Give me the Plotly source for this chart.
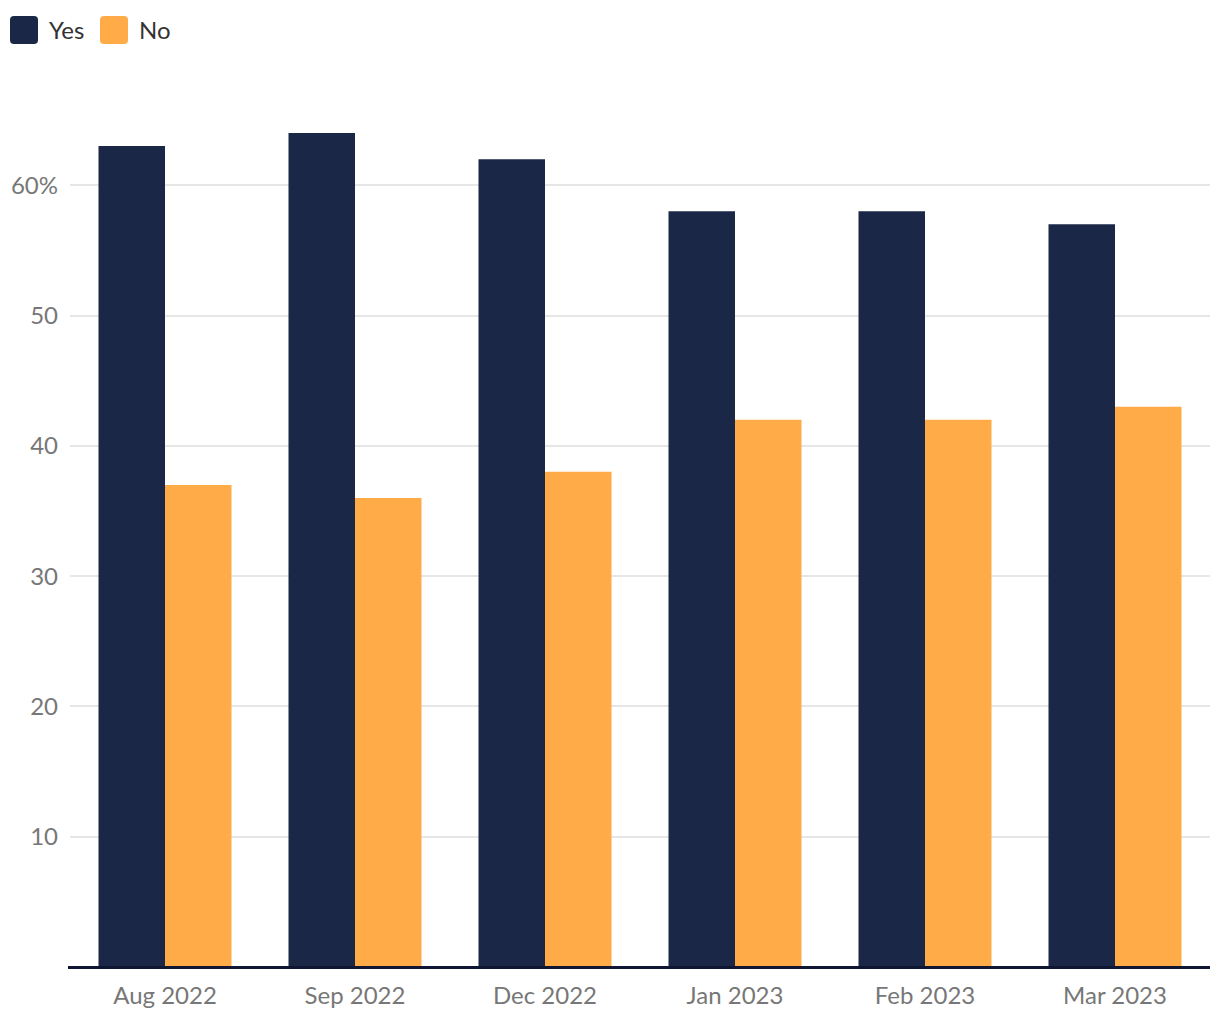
import plotly.graph_objects as go

categories = ["Aug 2022", "Sep 2022", "Dec 2022", "Jan 2023", "Feb 2023", "Mar 2023"]
yes_values = [63, 64, 62, 58, 58, 57]
no_values = [37, 36, 38, 42, 42, 43]
series_names = ["Yes", "No"]
tick_vals = [10, 20, 30, 40, 50, 60]
tick_text = ["10", "20", "30", "40", "50", "60%"]

YES_COLOR = "#1b2747"
NO_COLOR = "#ffab48"
FONT = "Lato, 'Open Sans', sans-serif"

# page body has an 8px margin; keep the figure inside the window (no scrollbars)
OFF = 8
PAGE_W, PAGE_H = 1220, 1020
W, H = PAGE_W - 2 * OFF, PAGE_H - 2 * OFF
PLOT_L, PLOT_R, PLOT_T, PLOT_B = 70, 1210, 80, 967   # page pixels
ML = PLOT_L - OFF
MR = (OFF + W) - PLOT_R
MT = PLOT_T - OFF
MB = (OFF + H) - PLOT_B

fig = go.Figure()
fig.add_trace(go.Bar(x=categories, y=yes_values, name=series_names[0],
                     marker=dict(color=YES_COLOR, line=dict(width=0)),
                     hoverinfo="x+y+name"))
fig.add_trace(go.Bar(x=categories, y=no_values, name=series_names[1],
                     marker=dict(color=NO_COLOR, line=dict(width=0)),
                     hoverinfo="x+y+name"))

pw = W - ML - MR
ph = H - MT - MB


def px2paper(x, y):
    return (x - PLOT_L) / pw, (PLOT_B - y) / ph


def rounded_square(x0, y0, size, r, color):
    def P(x, y):
        a, b = px2paper(x, y)
        return f"{a:.5f},{b:.5f}"
    x1, y1 = x0 + size, y0 + size
    path = (f"M {P(x0 + r, y0)} L {P(x1 - r, y0)} Q {P(x1, y0)} {P(x1, y0 + r)} "
            f"L {P(x1, y1 - r)} Q {P(x1, y1)} {P(x1 - r, y1)} "
            f"L {P(x0 + r, y1)} Q {P(x0, y1)} {P(x0, y1 - r)} "
            f"L {P(x0, y0 + r)} Q {P(x0, y0)} {P(x0 + r, y0)} Z")
    return dict(type="path", xref="paper", yref="paper", path=path,
                fillcolor=color, line=dict(width=0), layer="above")


shapes = [
    rounded_square(10, 16, 28, 4, YES_COLOR),
    rounded_square(100, 16, 28, 4, NO_COLOR),
]
# baseline
bx0, by = px2paper(68, 967.5)
bx1, _ = px2paper(1210, 967.5)
shapes.append(dict(type="line", xref="paper", yref="paper", x0=bx0, x1=bx1, y0=by, y1=by,
                   line=dict(color="#0e1633", width=3), layer="above"))

annotations = []
for name, xpx in zip(series_names, [47, 137]):
    ax, ay = px2paper(xpx, 30)
    annotations.append(dict(text=name, xref="paper", yref="paper", x=ax, y=ay,
                            xanchor="left", yanchor="middle", showarrow=False,
                            font=dict(family=FONT, size=24, color="#333333")))

fig.update_layout(
    width=W, height=H,
    margin=dict(l=ML, r=MR, t=MT, b=MB),
    paper_bgcolor="white", plot_bgcolor="white",
    barmode="group", bargap=0.3, bargroupgap=0,
    showlegend=False,
    font=dict(family=FONT, size=24, color="#777777"),
    shapes=shapes,
    annotations=annotations,
    xaxis=dict(showgrid=False, showline=False, ticks="", zeroline=False,
               ticklabelstandoff=12,
               tickfont=dict(family=FONT, size=24, color="#777777")),
    yaxis=dict(range=[0, ph / 13.03], tickvals=tick_vals, ticktext=tick_text,
               showgrid=True, gridcolor="#e6e6e6", gridwidth=1.5, zeroline=False,
               showline=False, ticks="", ticklabelstandoff=11,
               tickfont=dict(family=FONT, size=24, color="#777777")),
)

fig.write_html("out.html")
